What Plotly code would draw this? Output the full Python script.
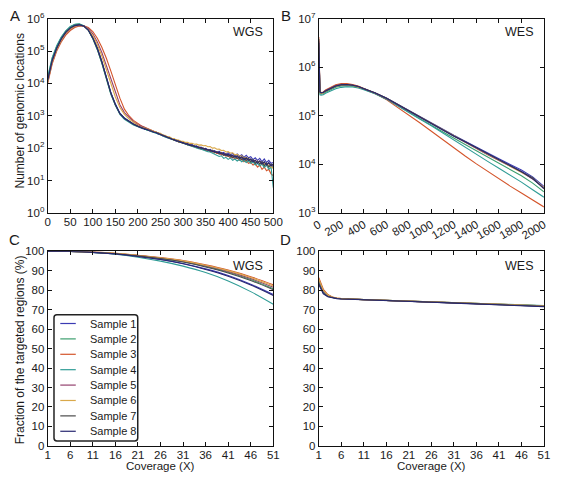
import plotly.graph_objects as go

W, H = 567, 479

samples = ["Sample 1", "Sample 2", "Sample 3", "Sample 4",
           "Sample 5", "Sample 6", "Sample 7", "Sample 8"]
line_colors = ["#3b3bb3", "#3c9f6e", "#d4552b", "#2f9c96",
               "#94416e", "#d9a84a", "#4a4a4a", "#272770"]

# ---------------- Panel A: WGS depth histogram ----------------
wgs_cov = list(range(0, 200, 10)) + list(range(200, 505, 5))

wgs_s1 = [12000, 50000, 120000, 230000, 370000, 500000, 600000, 640000, 590000, 450000,
          260000, 125000, 48000, 15000, 5200, 2300, 1200, 850, 680, 560,
          480, 430, 425, 380, 390, 345, 340, 310, 315, 275,
          275, 240, 245, 210, 212, 185, 190, 165, 170, 150,
          152, 135, 140, 122, 128, 112, 118, 102, 108, 95,
          98, 86, 92, 80, 84, 72, 80, 70, 74, 64,
          72, 62, 68, 58, 66, 56, 62, 52, 60, 50,
          54, 44, 50, 42, 48, 38, 46, 36, 42, 34,
          36]
wgs_s2 = [15000, 60000, 140000, 260000, 410000, 560000, 660000, 680000, 600000, 440000,
          240000, 110000, 42000, 13000, 4600, 2100, 1150, 820, 660, 540,
          465, 450, 400, 410, 365, 370, 325, 320, 295, 290,
          258, 255, 225, 228, 198, 200, 176, 176, 156, 158,
          140, 142, 126, 130, 114, 118, 104, 108, 95, 98,
          86, 90, 80, 84, 72, 76, 66, 70, 60, 64,
          56, 60, 52, 56, 48, 50, 44, 48, 40, 44,
          38, 42, 34, 38, 32, 36, 28, 33, 26, 30,
          24]
wgs_s3 = [10000, 40000, 100000, 190000, 310000, 430000, 530000, 590000, 600000, 530000,
          400000, 250000, 130000, 60000, 24000, 9000, 3500, 1600, 1000, 720,
          560, 520, 470, 440, 400, 385, 350, 330, 300, 290,
          262, 255, 230, 222, 200, 195, 175, 170, 155, 150,
          140, 138, 128, 122, 118, 110, 108, 100, 96, 92,
          90, 82, 84, 76, 76, 68, 70, 62, 64, 56,
          58, 50, 54, 46, 50, 42, 46, 38, 42, 34,
          36, 30, 33, 26, 30, 22, 26, 20, 22, 16,
          14]
wgs_s4 = [16000, 62000, 145000, 270000, 420000, 570000, 670000, 690000, 610000, 450000,
          245000, 112000, 43000, 13500, 4800, 2100, 1100, 780, 620, 520,
          460, 440, 400, 395, 360, 350, 320, 310, 290, 275,
          250, 240, 222, 210, 195, 186, 170, 165, 152, 146,
          135, 132, 122, 118, 110, 108, 100, 96, 92, 86,
          84, 78, 76, 70, 66, 60, 55, 58, 48, 52,
          45, 50, 42, 46, 40, 44, 38, 42, 36, 40,
          34, 38, 30, 34, 28, 32, 25, 30, 22, 26,
          6]
wgs_s5 = [11000, 45000, 110000, 210000, 340000, 470000, 570000, 620000, 600000, 500000,
          340000, 190000, 90000, 35000, 13000, 5000, 2200, 1250, 880, 660,
          530, 500, 450, 430, 395, 375, 345, 330, 305, 292,
          268, 258, 236, 225, 206, 198, 182, 176, 162, 158,
          146, 142, 132, 128, 120, 118, 110, 108, 100, 98,
          94, 90, 86, 84, 78, 76, 72, 70, 66, 64,
          62, 60, 58, 56, 54, 52, 50, 48, 47, 45,
          44, 40, 42, 37, 40, 34, 36, 31, 34, 29,
          28]
wgs_s6 = [11000, 46000, 112000, 215000, 350000, 480000, 580000, 625000, 590000, 470000,
          300000, 160000, 70000, 26000, 9500, 3800, 1800, 1100, 800, 620,
          500, 460, 440, 400, 395, 360, 355, 320, 318, 290,
          285, 255, 250, 225, 222, 198, 198, 180, 178, 165,
          162, 150, 152, 140, 142, 132, 134, 124, 126, 118,
          120, 110, 112, 100, 102, 92, 94, 84, 86, 76,
          78, 70, 72, 62, 64, 56, 58, 50, 52, 46,
          46, 40, 42, 36, 38, 32, 34, 30, 30, 26,
          24]
wgs_s7 = [13000, 52000, 125000, 240000, 385000, 520000, 620000, 650000, 590000, 440000,
          250000, 118000, 45000, 14000, 5000, 2200, 1150, 830, 670, 550,
          470, 450, 410, 400, 370, 360, 330, 320, 296, 290,
          260, 252, 228, 222, 200, 196, 176, 174, 158, 156,
          142, 140, 128, 128, 116, 118, 106, 108, 96, 100,
          88, 92, 80, 86, 72, 78, 66, 72, 60, 66,
          56, 62, 50, 58, 48, 54, 44, 50, 42, 48,
          38, 44, 34, 40, 32, 38, 29, 35, 26, 32,
          30]
wgs_s8 = [12500, 51000, 122000, 235000, 375000, 510000, 610000, 645000, 590000, 445000,
          255000, 122000, 47000, 14500, 5100, 2250, 1180, 840, 675, 555,
          475, 435, 420, 385, 380, 345, 340, 310, 305, 275,
          270, 242, 236, 212, 208, 188, 184, 166, 166, 150,
          148, 134, 136, 122, 124, 112, 114, 102, 104, 94,
          96, 86, 88, 78, 80, 72, 74, 66, 68, 60,
          64, 56, 60, 52, 58, 48, 54, 44, 50, 42,
          46, 38, 42, 34, 40, 32, 38, 30, 36, 28,
          32]

# ---------------- Panel B: WES depth histogram ----------------
wes_cov = [0, 5, 10, 20, 40, 60, 100, 150, 200, 250, 300, 350, 400,
           500, 600, 700, 800, 900, 1000, 1100, 1200, 1300, 1400, 1500,
           1600, 1700, 1800, 1900, 2000]

wes_s1 = [2.8e6, 3.25e5, 3.05e5, 2.95e5, 3.0e5, 3.2e5, 3.55e5, 4.0e5, 4.25e5, 4.3e5, 4.2e5, 3.95e5, 3.6e5,
          2.95e5, 2.32e5, 1.72e5, 1.28e5, 9.5e4, 7.1e4, 5.3e4, 3.95e4, 3.0e4, 2.3e4, 1.7e4,
          1.3e4, 9900, 7600, 5500, 3500]
wes_s2 = [2.5e6, 3.1e5, 2.9e5, 2.8e5, 2.85e5, 3.05e5, 3.4e5, 3.85e5, 4.1e5, 4.15e5, 4.05e5, 3.85e5, 3.5e5,
          2.85e5, 2.2e5, 1.63e5, 1.2e5, 8.8e4, 6.4e4, 4.7e4, 3.4e4, 2.55e4, 1.9e4, 1.4e4,
          1.05e4, 7800, 5800, 4100, 2700]
wes_s3 = [4.2e6, 3.4e5, 3.15e5, 3.0e5, 3.1e5, 3.4e5, 3.85e5, 4.35e5, 4.6e5, 4.6e5, 4.4e5, 4.1e5, 3.65e5,
          2.9e5, 2.15e5, 1.5e5, 1.05e5, 7.1e4, 4.8e4, 3.2e4, 2.15e4, 1.48e4, 1.02e4, 7100,
          4900, 3550, 2570, 1860, 1320]
wes_s4 = [2.0e6, 2.9e5, 2.7e5, 2.65e5, 2.7e5, 2.9e5, 3.2e5, 3.6e5, 3.85e5, 3.95e5, 3.9e5, 3.75e5, 3.45e5,
          2.85e5, 2.2e5, 1.62e5, 1.17e5, 8.5e4, 6.2e4, 4.4e4, 3.1e4, 2.24e4, 1.62e4, 1.15e4,
          8300, 6000, 4300, 3000, 2100]
wes_s5 = [3.5e6, 3.3e5, 3.1e5, 3.0e5, 3.05e5, 3.3e5, 3.7e5, 4.2e5, 4.45e5, 4.45e5, 4.3e5, 4.0e5, 3.6e5,
          2.92e5, 2.26e5, 1.68e5, 1.24e5, 9.1e4, 6.7e4, 5.0e4, 3.7e4, 2.8e4, 2.1e4, 1.58e4,
          1.2e4, 9100, 6900, 5000, 3300]
wes_s6 = [3.0e6, 3.2e5, 3.0e5, 2.9e5, 2.95e5, 3.2e5, 3.6e5, 4.05e5, 4.3e5, 4.35e5, 4.2e5, 3.95e5, 3.6e5,
          2.95e5, 2.3e5, 1.7e5, 1.26e5, 9.3e4, 6.9e4, 5.1e4, 3.8e4, 2.85e4, 2.15e4, 1.6e4,
          1.22e4, 9200, 7000, 5100, 3300]
wes_s7 = [3.8e6, 3.3e5, 3.1e5, 3.0e5, 3.05e5, 3.25e5, 3.6e5, 4.1e5, 4.35e5, 4.4e5, 4.25e5, 4.0e5, 3.62e5,
          2.97e5, 2.33e5, 1.72e5, 1.27e5, 9.4e4, 7.0e4, 5.2e4, 3.85e4, 2.9e4, 2.2e4, 1.65e4,
          1.25e4, 9500, 7200, 5300, 3100]
wes_s8 = [3.2e6, 3.3e5, 3.1e5, 2.95e5, 3.0e5, 3.25e5, 3.6e5, 4.1e5, 4.35e5, 4.4e5, 4.25e5, 4.0e5, 3.6e5,
          2.95e5, 2.3e5, 1.7e5, 1.26e5, 9.3e4, 6.9e4, 5.1e4, 3.8e4, 2.9e4, 2.2e4, 1.62e4,
          1.23e4, 9300, 7100, 5000, 3200]

# ---------------- Panel C: WGS cumulative fraction ----------------
frac_cov_wgs = [1, 6, 11, 16, 21, 26, 31, 36, 41, 46, 51]
fwgs_s1 = [100, 99.9, 99.5, 98.7, 97.5, 95.9, 93.8, 91.0, 87.6, 83.1, 77.8]
fwgs_s2 = [100, 99.9, 99.5, 98.9, 97.8, 96.4, 94.7, 92.3, 89.3, 85.5, 80.8]
fwgs_s3 = [100, 99.9, 99.6, 99.0, 98.0, 96.8, 95.3, 93.1, 90.4, 87.0, 82.8]
fwgs_s4 = [100, 99.9, 99.4, 98.5, 97.0, 95.0, 92.4, 89.1, 84.8, 79.3, 72.8]
fwgs_s5 = [100, 99.9, 99.6, 98.9, 97.9, 96.6, 94.9, 92.6, 89.7, 86.0, 81.5]
fwgs_s6 = [100, 99.9, 99.6, 99.0, 97.9, 96.7, 95.1, 92.9, 90.1, 86.6, 82.2]
fwgs_s7 = [100, 99.9, 99.5, 98.8, 97.7, 96.3, 94.5, 92.0, 88.9, 85.0, 80.3]
fwgs_s8 = [100, 99.9, 99.5, 98.7, 97.4, 95.8, 93.6, 90.7, 87.2, 82.7, 77.3]

# ---------------- Panel D: WES cumulative fraction ----------------
frac_cov_wes = [1, 2, 3, 4, 5, 6, 11, 16, 21, 26, 31, 36, 41, 46, 51]
fwes_s1 = [84.0, 78.8, 77.0, 76.2, 75.8, 75.6, 75.1, 74.7, 74.3, 73.9, 73.5, 73.1, 72.7, 72.2, 71.8]
fwes_s2 = [85.0, 79.5, 77.4, 76.4, 75.9, 75.7, 75.2, 74.8, 74.4, 74.0, 73.6, 73.2, 72.8, 72.4, 72.0]
fwes_s3 = [86.5, 80.5, 77.8, 76.5, 76.0, 75.7, 75.2, 74.8, 74.4, 74.0, 73.6, 73.2, 72.8, 72.4, 72.0]
fwes_s4 = [84.5, 79.2, 77.2, 76.3, 75.9, 75.7, 75.2, 74.8, 74.5, 74.1, 73.7, 73.3, 72.9, 72.5, 72.1]
fwes_s5 = [85.5, 79.8, 77.5, 76.4, 75.9, 75.7, 75.2, 74.8, 74.4, 74.0, 73.6, 73.2, 72.7, 72.3, 71.9]
fwes_s6 = [85.8, 80.0, 77.6, 76.5, 76.0, 75.7, 75.2, 74.8, 74.4, 74.0, 73.6, 73.2, 72.8, 72.4, 72.0]
fwes_s7 = [83.5, 78.5, 76.8, 76.1, 75.8, 75.6, 75.1, 74.7, 74.3, 73.9, 73.5, 73.0, 72.6, 72.1, 71.7]
fwes_s8 = [83.0, 78.2, 76.7, 76.0, 75.7, 75.5, 75.0, 74.6, 74.2, 73.8, 73.4, 72.9, 72.5, 72.0, 71.6]

wgs_hist = [wgs_s1, wgs_s2, wgs_s3, wgs_s4, wgs_s5, wgs_s6, wgs_s7, wgs_s8]
wes_hist = [wes_s1, wes_s2, wes_s3, wes_s4, wes_s5, wes_s6, wes_s7, wes_s8]
wgs_frac = [fwgs_s1, fwgs_s2, fwgs_s3, fwgs_s4, fwgs_s5, fwgs_s6, fwgs_s7, fwgs_s8]
wes_frac = [fwes_s1, fwes_s2, fwes_s3, fwes_s4, fwes_s5, fwes_s6, fwes_s7, fwes_s8]

log_ticks_a = [1, 10, 100, 1000, 10000, 100000, 1000000]
log_text_a = ["10<sup>%d</sup>" % i for i in range(0, 7)]
log_ticks_b = [1000, 10000, 100000, 1000000, 10000000]
log_text_b = ["10<sup>%d</sup>" % i for i in range(3, 8)]
cov_ticks = [1, 6, 11, 16, 21, 26, 31, 36, 41, 46, 51]

FONT = "Liberation Sans, Arial, sans-serif"
TXT = "#1a1a1a"

def px(x):
    return x / W

def py(y):
    return 1 - y / H

fig = go.Figure()
for i, name in enumerate(samples):
    c = line_colors[i]
    fig.add_trace(go.Scatter(x=wgs_cov, y=wgs_hist[i], mode="lines", name=name,
                             line=dict(color=c, width=1.1), xaxis="x", yaxis="y",
                             showlegend=False))
    fig.add_trace(go.Scatter(x=wes_cov, y=wes_hist[i], mode="lines", name=name,
                             line=dict(color=c, width=1.1), xaxis="x2", yaxis="y2",
                             showlegend=False))
    fig.add_trace(go.Scatter(x=frac_cov_wgs, y=wgs_frac[i], mode="lines", name=name,
                             line=dict(color=c, width=1.1, shape="spline"),
                             xaxis="x3", yaxis="y3", showlegend=False))
    fig.add_trace(go.Scatter(x=frac_cov_wes, y=wes_frac[i], mode="lines", name=name,
                             line=dict(color=c, width=1.1), xaxis="x4", yaxis="y4",
                             showlegend=False))

axis_common = dict(showline=True, linecolor="#111", linewidth=1, mirror="ticks",
                   ticks="inside", ticklen=4, tickcolor="#111", showgrid=False,
                   zeroline=False, tickfont=dict(family=FONT, size=11.5, color=TXT))

dxL = [px(41), px(274)]
dxR = [px(321), px(553.5)]
dyT = [py(211), py(11)]
dyB = [py(451), py(250.7)]

fig.update_layout(
    width=W, height=H, margin=dict(l=0, r=0, t=0, b=0),
    paper_bgcolor="white", plot_bgcolor="white",
    font=dict(family=FONT, size=12, color=TXT),
    showlegend=False,
    xaxis=dict(domain=dxL, range=[0, 500], tickvals=list(range(0, 501, 50)),
               anchor="y", ticklabelstandoff=-2, **axis_common),
    yaxis=dict(domain=dyT, type="log", range=[0, 6], tickvals=log_ticks_a,
               ticktext=log_text_a, anchor="x", **axis_common),
    xaxis2=dict(domain=dxR, range=[0, 2000], tickvals=list(range(0, 2001, 200)),
                tickangle=-30, anchor="y2", **axis_common),
    yaxis2=dict(domain=dyT, type="log", range=[3, 7], tickvals=log_ticks_b,
                ticktext=log_text_b, anchor="x2", **axis_common),
    xaxis3=dict(domain=dxL, range=[1, 51], tickvals=cov_ticks, anchor="y3",
                ticklabelstandoff=-2, **axis_common),
    yaxis3=dict(domain=dyB, range=[0, 100], tickvals=list(range(0, 101, 10)),
                anchor="x3", **axis_common),
    xaxis4=dict(domain=dxR, range=[1, 51], tickvals=cov_ticks, anchor="y4",
                ticklabelstandoff=-2, **axis_common),
    yaxis4=dict(domain=dyB, range=[0, 100], tickvals=list(range(0, 101, 10)),
                anchor="x4", **axis_common),
)

ann = []
def add_text(x, y, text, size=12, angle=0, xanchor="center"):
    ann.append(dict(x=px(x), y=py(y), xref="paper", yref="paper", text=text,
                    showarrow=False, textangle=angle, xanchor=xanchor, yanchor="middle",
                    font=dict(family=FONT, size=size, color=TXT)))

# panel letters
add_text(7, 8, "A", 15)
add_text(287, 8, "B", 15)
add_text(7, 238, "C", 15)
add_text(287, 238, "D", 15)
# panel tags
add_text(248, 25, "WGS", 12.5)
add_text(528, 25, "WES", 12.5)
add_text(248, 266, "WGS", 12.5)
add_text(528, 266, "WES", 12.5)
# axis titles
add_text(12, 106, "Number of genomic locations", 12, -90)
add_text(12, 352, "Fraction of the targeted regions (%)", 12, -90)
add_text(157.5, 471.5, "Coverage (X)", 11.5)
add_text(437, 471.5, "Coverage (X)", 11.5)

# legend (drawn in panel C)
shapes = []
lx0, lx1, ly0, ly1, r = 47.5, 134, 316, 446, 3
path = ("M {a},{b} L {c},{b} Q {x1},{b} {x1},{d} L {x1},{e} Q {x1},{f} {c},{f} "
        "L {a},{f} Q {x0},{f} {x0},{e} L {x0},{d} Q {x0},{b} {a},{b} Z").format(
    a=px(lx0 + r), c=px(lx1 - r), x0=px(lx0), x1=px(lx1),
    b=py(ly0), d=py(ly0 + r), e=py(ly1 - r), f=py(ly1))
shapes.append(dict(type="path", path=path, xref="paper", yref="paper",
                   line=dict(color="#222", width=1.5), fillcolor="white", layer="above"))
for i, name in enumerate(samples):
    yrow = 325 + i * 15.86
    shapes.append(dict(type="line", xref="paper", yref="paper",
                       x0=px(54), x1=px(70), y0=py(yrow), y1=py(yrow),
                       line=dict(color=line_colors[i], width=1.2), layer="above"))
    add_text(82.5, yrow, name, 11, 0, "left")

fig.update_layout(annotations=ann, shapes=shapes)
fig.write_html("out.html",
               config={"displayModeBar": False},
               post_script="document.body.style.margin='0px';document.body.style.overflow='hidden';")
